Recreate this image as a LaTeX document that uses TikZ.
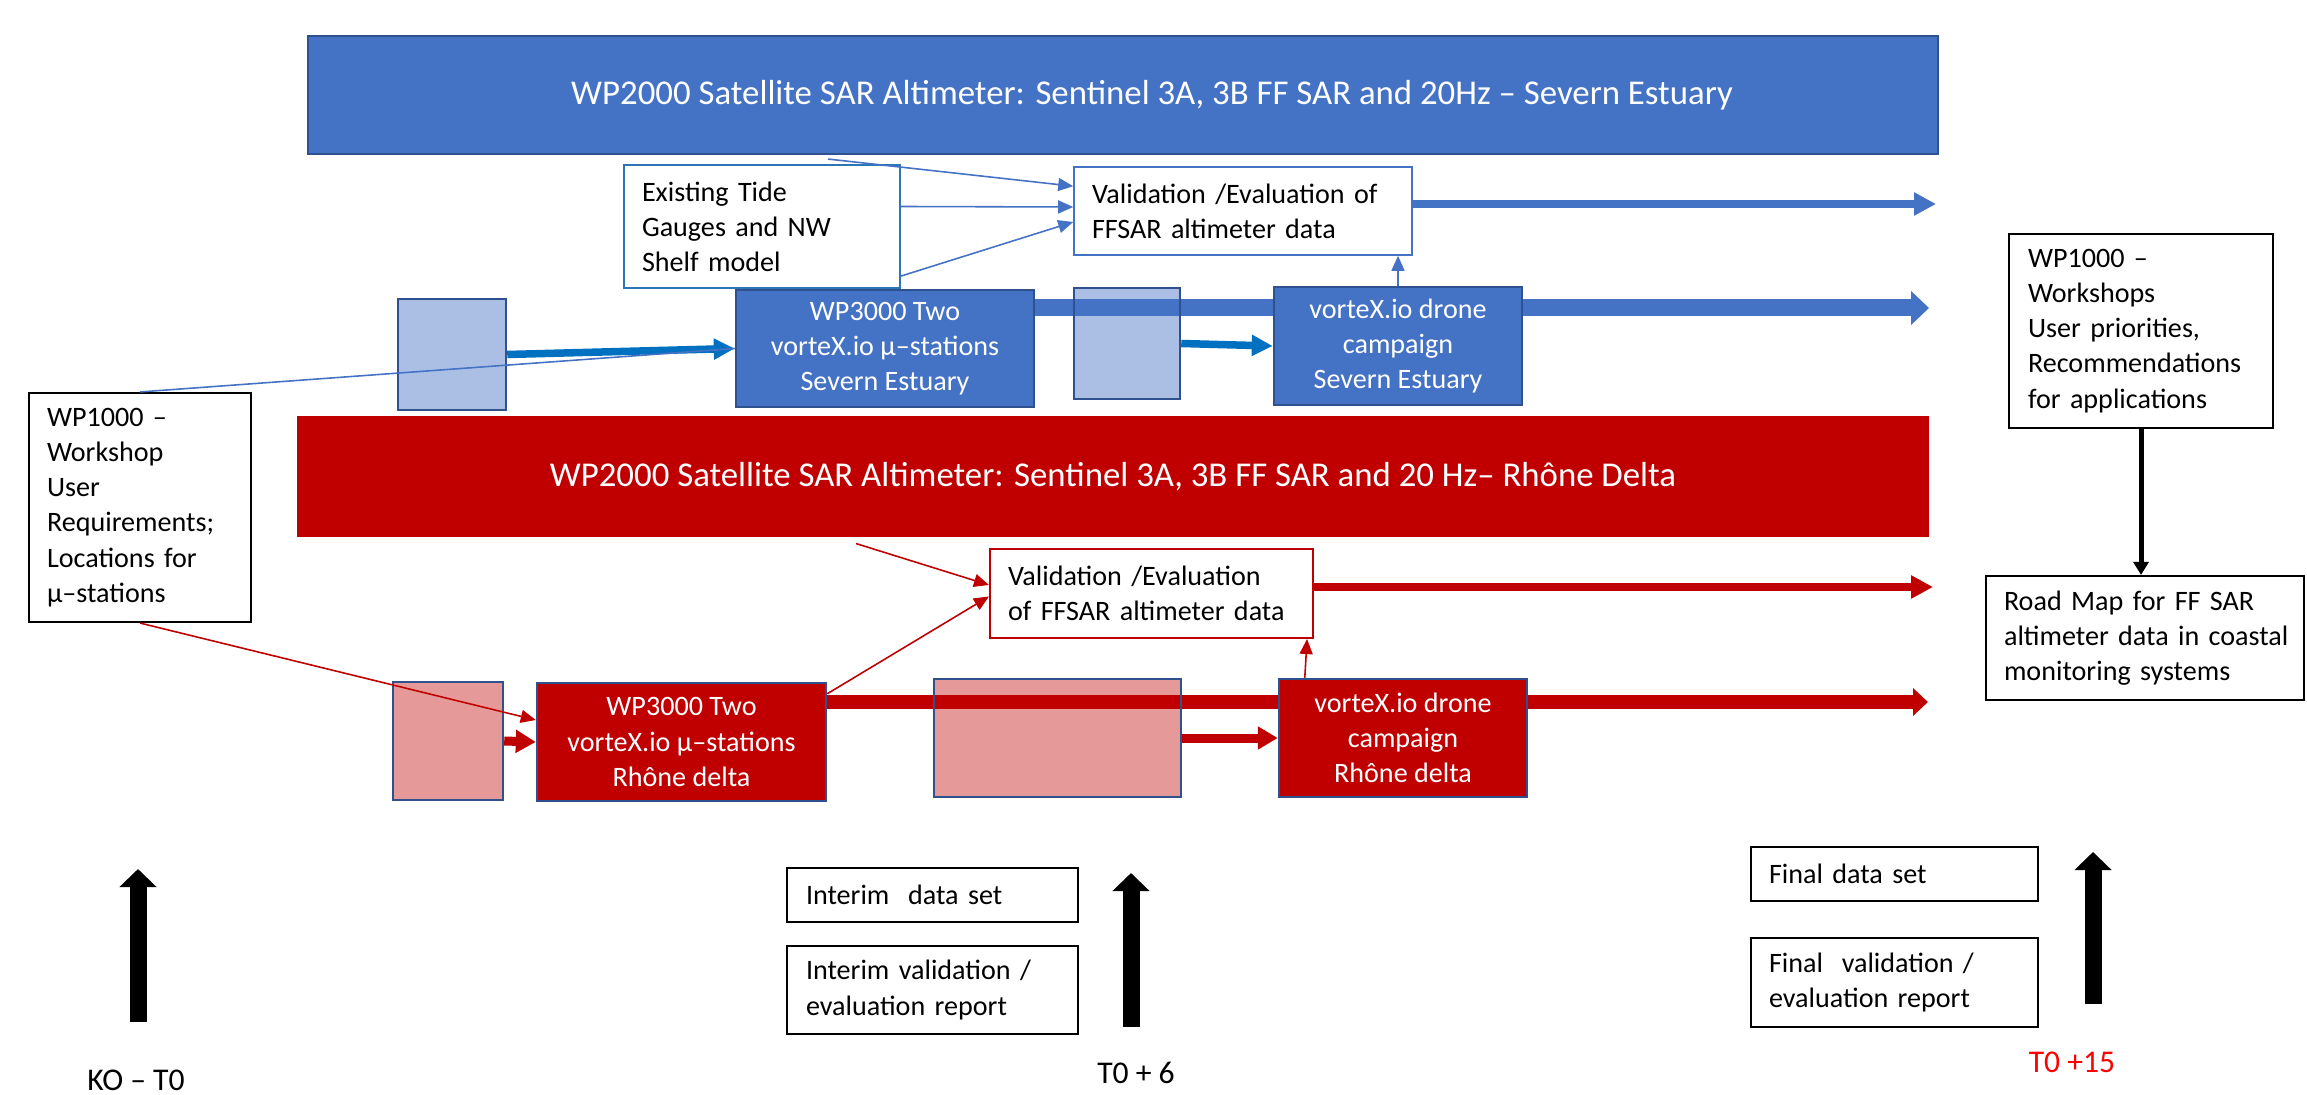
\documentclass[tikz,border=0pt]{standalone}
\usepackage{fontspec}
\setmainfont{Carlito}
\usetikzlibrary{arrows.meta,positioning}

\definecolor{wpblue}{HTML}{4472C4}
\definecolor{wpedge}{HTML}{2F528F}
\definecolor{feedblue}{HTML}{0070C0}
\definecolor{exedge}{HTML}{2E75B6}
\definecolor{wpred}{HTML}{C00000}

\begin{document}
\begin{tikzpicture}[semithick,
		every node/.style={font=\fontsize{8}{10}\selectfont},
		banner/.style={rectangle,draw=wpedge,line width=0.6pt,minimum width=16.3cm,minimum height=1.18cm,text=white,font=\fontsize{9.9}{12}\selectfont},
		wpbox/.style={rectangle,draw=wpedge,line width=0.7pt,text=white,align=center,minimum height=1.18cm},
		shade/.style={rectangle,draw=wpedge,line width=0.7pt,fill opacity=0.45},
		note/.style={rectangle,draw,line width=0.6pt,fill=white,align=left,inner xsep=0.18cm,inner ysep=0pt},
		link/.style={line width=0.45pt,-{Triangle[length=0.15cm,width=0.13cm]}},
		band/.style={line width=0.17cm,-{Triangle[length=0.18cm,width=0.33cm]}},
		outarr/.style={line width=0.08cm,-{Triangle[length=0.22cm,width=0.22cm]}},
		feed/.style={line width=0.075cm,-{Triangle[length=0.21cm,width=0.2cm]}},
		milestone/.style={line width=0.17cm,-{Triangle[length=0.18cm,width=0.36cm]}}]
		
		\useasboundingbox (0,0) rectangle (23.07,-10.95);
		
		% the two WP2000 banners
		\node[banner,fill=wpblue] (satB) at (11.23,-0.95) {\hspace*{0.58cm}WP2000 Satellite SAR Altimeter: Sentinel 3A, 3B FF SAR and 20Hz – Severn Estuary};
		\node[banner,fill=wpred,draw=wpred] (satR) at (11.13,-4.765) {WP2000 Satellite SAR Altimeter: Sentinel 3A, 3B FF SAR and 20 Hz– Rhône Delta};
		
		% validation boxes and inputs
		\node[note,draw=exedge,text width=2.4cm,minimum height=1.23cm] (exist) at (7.62,-2.265) {Existing Tide\\Gauges and NW\\Shelf model};
		\node[note,draw=wpblue,line width=0.45pt,text width=3.02cm,minimum height=0.88cm] (valB) at (12.43,-2.11) {Validation /Evaluation of\\FFSAR altimeter data};
		\node[note,draw=wpred,text width=2.87cm,minimum height=0.89cm] (valR) at (11.515,-5.935) {Validation /Evaluation\\of FFSAR altimeter data};
		
		% WP3000 stations
		\node[wpbox,fill=wpblue,minimum width=2.98cm,minimum height=1.17cm] (wpS) at (8.85,-3.485) {WP3000 Two\\vorteX.io μ–stations\\Severn Estuary};
		\node[wpbox,fill=wpred,minimum width=2.89cm] (wpR) at (6.815,-7.42) {WP3000 Two\\vorteX.io μ–stations\\Rhône delta};
		
		\coordinate (outB) at (19.36,-2.04);
		\coordinate (bandB) at (19.29,-3.08);
		\coordinate (outR) at (19.33,-5.87);
		\coordinate (bandR) at (19.28,-7.02);
		\draw[outarr,wpblue] (valB.east |- outB) -- (outB);
		\draw[band,wpblue] (wpS.east |- bandB) -- (bandB);
		\draw[outarr,wpred] (valR.east |- outR) -- (outR);
		\draw[band,wpred,line width=0.135cm,-{Triangle[length=0.15cm,width=0.27cm]}] (wpR.east |- bandR) -- (bandR);
		
		% light boxes and drone campaigns
		\node[shade,fill=wpblue,minimum width=1.08cm,minimum height=1.11cm] (lb1) at (4.52,-3.545) {};
		\node[shade,fill=wpblue,minimum width=1.06cm,minimum height=1.11cm] (lb2) at (11.27,-3.435) {};
		\node[shade,fill=wpred,fill opacity=0.4,minimum width=1.1cm,minimum height=1.18cm] (lr1) at (4.48,-7.41) {};
		\node[shade,fill=wpred,fill opacity=0.4,minimum width=2.47cm,minimum height=1.18cm] (lr2) at (10.575,-7.38) {};
		\node[wpbox,fill=wpblue,minimum width=2.48cm] (dS) at (13.98,-3.46) {vorteX.io drone\\campaign\\Severn Estuary};
		\node[wpbox,fill=wpred,minimum width=2.48cm] (dR) at (14.03,-7.38) {vorteX.io drone\\campaign\\Rhône delta};
		
		% workshops
		\node[note,text width=1.86cm,minimum height=2.29cm] (wp1L) at (1.40,-5.075) {WP1000 –\\Workshop\\User\\Requirements;\\Locations for\\μ–stations};
		\node[note,text width=2.26cm,inner xsep=0.19cm,minimum height=1.94cm] (wp1R) at (21.41,-3.31) {WP1000 –\\Workshops\\User priorities,\\Recommendations\\for applications};
		\node[note,text width=2.82cm,minimum height=1.24cm] (road) at (21.45,-6.38) {Road Map for FF SAR\\\mbox{altimeter data in coastal}\\monitoring systems};
		
		% feeds
		\draw[feed,feedblue] (lb1.east) -- (wpS.west);
		\draw[feed,feedblue] (lb2.east) -- (dS.west);
		\draw[feed,wpred,line width=0.09cm,-{Triangle[length=0.2cm,width=0.22cm]}] (lr1.east) -- (wpR.west);
		\draw[feed,wpred,line width=0.09cm,-{Triangle[length=0.2cm,width=0.22cm]}] (lr2.east) -- (dR.west);
		
		% thin links
		\draw[link,wpblue] ([xshift=-2.95cm,yshift=-0.04cm]satB.south) -- ([yshift=-0.2cm]valB.north west);
		\draw[link,wpblue] ([yshift=0.2cm]exist.east) -- ([yshift=0.04cm]valB.west);
		\draw[link,wpblue] ([yshift=0.13cm]exist.south east) -- ([yshift=-0.11cm]valB.west);
		\draw[link,wpblue] (dS.north) -- (dS.north |- valB.south);
		\draw[wpblue,line width=0.45pt] (wp1L.north) -- (wpS.west);
		\draw[link,wpred] ([xshift=-2.57cm,yshift=-0.07cm]satR.south) -- ([yshift=0.085cm]valR.west);
		\draw[link,wpred] ([yshift=-0.12cm]wpR.north east) -- ([yshift=-0.03cm]valR.west);
		\draw[link,wpred] ([xshift=0.27cm]dR.north west) -- ([xshift=-0.07cm]valR.south east);
		\draw[link,wpred] (wp1L.south) -- ([yshift=0.22cm]wpR.west);
		\draw[line width=0.05cm,-{Triangle[length=0.13cm,width=0.15cm]}] (wp1R.south) -- (wp1R.south |- road.north);
		
		% deliverables
		\node[note,text width=2.53cm,inner xsep=0.19cm,minimum height=0.54cm] (intdata) at (9.325,-8.95) {Interim\ \ data set};
		\node[note,text width=2.53cm,inner xsep=0.19cm,minimum height=0.88cm] (intval) [below of=intdata,node distance=0.95cm] {Interim validation /\\evaluation report};
		\node[note,text width=2.51cm,inner xsep=0.18cm,minimum height=0.54cm] (findata) at (18.945,-8.74) {Final data set};
		\node[note,text width=2.51cm,inner xsep=0.18cm,minimum height=0.89cm] (finval) [below of=findata,node distance=1.085cm] {Final\ \ validation /\\evaluation report};
		
		% milestones
		\node[anchor=base,font=\fontsize{9}{11}\selectfont] (ko) at (1.36,-10.9) {KO – T0};
		\node[anchor=base,font=\fontsize{9}{11}\selectfont] (t6) at (11.36,-10.83) {T0 + 6};
		\node[anchor=base,font=\fontsize{9}{11}\selectfont,text=red] (t15) at (20.72,-10.72) {T0 +15};
		\coordinate (koBot) at (1.38,-10.22);
		\coordinate (t6Bot) at (11.31,-10.27);
		\coordinate (t15Bot) at (20.93,-10.04);
		\draw[milestone] (koBot) -- ++(0,1.53);
		\draw[milestone] (t6Bot) -- ++(0,1.54);
		\draw[milestone] (t15Bot) -- ++(0,1.52);
	\end{tikzpicture}
\end{document}
